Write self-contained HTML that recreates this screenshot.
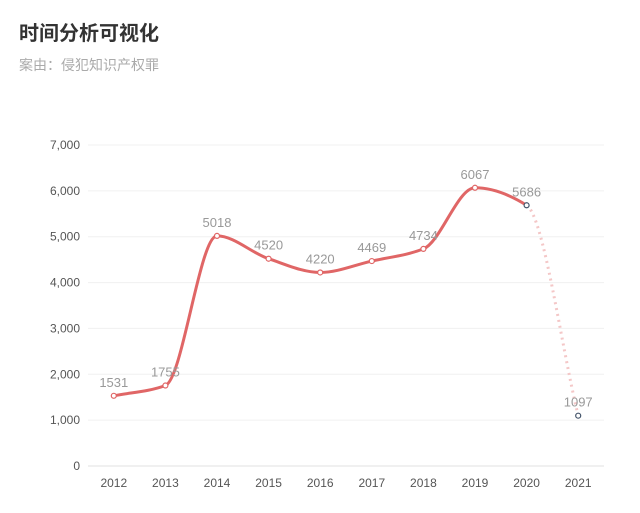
<!DOCTYPE html>
<html><head><meta charset="utf-8"><style>
body{margin:0;width:640px;height:513px;background:#fff;overflow:hidden;font-family:"Liberation Sans","Noto Sans CJK SC",sans-serif}
.t{position:absolute;left:19px;top:17px;font-size:20px;font-weight:bold;color:#333}
.s{position:absolute;left:19px;top:55px;font-size:14px;color:#aaa}
</style></head><body>
<div class="t">时间分析可视化</div>
<div class="s">案由：侵犯知识产权罪</div>
<svg id="c" width="640" height="513" style="position:absolute;left:0;top:0" font-family="Liberation Sans, sans-serif"></svg>
<script>
var s=document.getElementById('c'),h='';
var y0=466,k=(466-145)/7000,L=88,R=604,w=(R-L)/10;
for(var i=0;i<=7;i++){var y=y0-i*1000*k;h+='<line x1="'+L+'" x2="'+R+'" y1="'+y+'" y2="'+y+'" stroke="'+(i==0?'#e0e0e0':'#f0f0f0')+'"/>';
h+='<text x="80" y="'+(y+4)+'" text-anchor="end" font-size="12" fill="#555">'+(i?i+',000':'0')+'</text>';}
var v=[1531,1755,5018,4520,4220,4469,4734,6067,5686,1097],P=[];
for(var i=0;i<10;i++){P.push([L+w*(i+.5),y0-v[i]*k]);h+='<text x="'+(L+w*(i+.5))+'" y="487" text-anchor="middle" font-size="12" fill="#555">'+(2012+i)+'</text>';}
// monotone cubic (Fritsch-Carlson)
var n=10,dl=[],m=[];
for(var i=0;i<n-1;i++)dl.push((P[i+1][1]-P[i][1])/w);
m[0]=dl[0];m[n-1]=dl[n-2];
for(var i=1;i<n-1;i++){if(dl[i-1]*dl[i]<=0)m[i]=0;else{m[i]=2/(1/dl[i-1]+1/dl[i]);}}
function seg(a){var b=a+1,d=w/3;return ' C'+(P[a][0]+d)+','+(P[a][1]+m[a]*d)+' '+(P[b][0]-d)+','+(P[b][1]-m[b]*d)+' '+P[b];}
var d='M'+P[0];for(var i=0;i<8;i++)d+=seg(i);
h+='<path d="'+d+'" fill="none" stroke="#e06666" stroke-width="3"/>';
h+='<path d="M'+P[8]+seg(8)+'" fill="none" stroke="#f4c7c7" stroke-width="3" stroke-dasharray="2,4"/>';
for(var i=0;i<10;i++){var c=i<8?'#e06666':'#44546a';
h+='<circle cx="'+P[i][0]+'" cy="'+P[i][1]+'" r="2.5" fill="#fff" stroke="'+c+'" stroke-width="1.2"/>';
h+='<text x="'+P[i][0]+'" y="'+(P[i][1]-9)+'" text-anchor="middle" font-size="13" fill="#999">'+v[i]+'</text>';}
s.innerHTML=h;
</script>
</body></html>
